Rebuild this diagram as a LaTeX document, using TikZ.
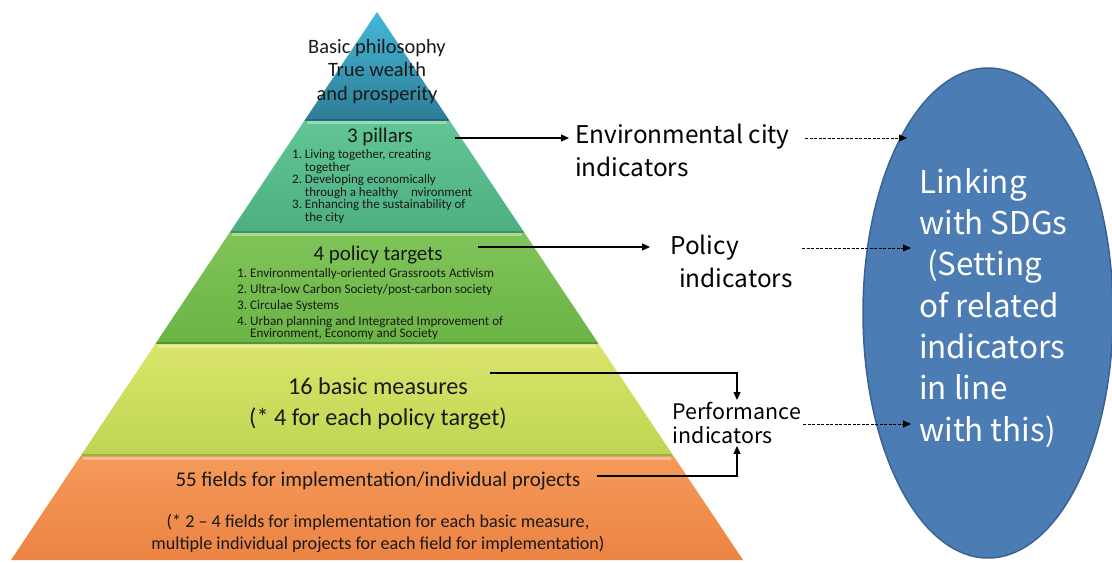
\documentclass[tikz,border=0pt]{standalone}
\usepackage{fontspec}
\setmainfont{Carlito}
\newfontfamily\jp{Noto Sans CJK JP}
\usetikzlibrary{arrows.meta,shapes.geometric,calc}
\definecolor{bluetop}{HTML}{45B8D8}
\definecolor{bluebot}{HTML}{2D7C96}
\definecolor{tealtop}{HTML}{62C594}
\definecolor{tealbot}{HTML}{4DAF80}
\definecolor{greentop}{HTML}{80C45A}
\definecolor{greenbot}{HTML}{6AB444}
\definecolor{yeltop}{HTML}{D9E56B}
\definecolor{yelbot}{HTML}{BFD552}
\definecolor{orgtop}{HTML}{F59A5A}
\definecolor{orgbot}{HTML}{EC8343}
\definecolor{sdgfill}{HTML}{4B7CB3}
\definecolor{sdgline}{HTML}{3A6394}
\tikzset{
  tier/.style={draw=none},
  hilite/.style={line width=3bp, white, opacity=0.35},
  shade/.style={line width=2bp, black, opacity=0.18},
  arr/.style={line width=1.1bp, -{Triangle[length=8bp,width=7bp]}},
  darr/.style={line width=0.8bp, dash pattern=on 3bp off 1.5bp, -{Triangle[length=8bp,width=7bp]}},
  ptxt/.style={font=\fontsize{21}{24}\selectfont, text=black!90, inner sep=0},
  listtxt/.style={font=\fontsize{13}{12.6}\selectfont, align=left, text=black!90, inner sep=0},
  rtxt/.style={font=\jp\fontsize{24.5}{32.5}\selectfont, align=left, inner sep=2bp},
}
\begin{document}
\begin{tikzpicture}[x=1bp,y=-1bp]
\useasboundingbox[fill=white] (0,0) rectangle (1112,563);
% pyramid tiers
\path[tier, top color=bluetop, bottom color=bluebot] (377,12) -- (449.8,121) -- (304.2,121) -- cycle;
\path[tier, top color=tealtop, bottom color=tealbot] (304.2,121) -- (449.8,121) -- (524.6,233) -- (229.4,233) -- cycle;
\path[tier, top color=greentop, bottom color=greenbot] (229.4,233) -- (524.6,233) -- (598.7,344) -- (155.3,344) -- cycle;
\path[tier, top color=yeltop, bottom color=yelbot] (155.3,344) -- (598.7,344) -- (673.5,456) -- (80.5,456) -- cycle;
\path[tier, top color=orgtop, bottom color=orgbot] (80.5,456) -- (673.5,456) -- (743,560) -- (11,560) -- cycle;
\draw[shade] (306,120) -- (448,120);
\draw[shade] (231,232) -- (523,232);
\draw[shade] (157,343) -- (597,343);
\draw[shade] (82,455) -- (672,455);
\draw[hilite] (307,123) -- (447,123);
\draw[hilite] (232,235) -- (522,235);
\draw[hilite] (158,346.5) -- (596,346.5);
\draw[hilite] (83,458.5) -- (671,458.5);
% pyramid texts
\node[ptxt, align=center, font=\fontsize{20.5}{23.5}\selectfont] (phil) at (377,71.5) {Basic philosophy\\True wealth\\and prosperity};
\node[ptxt] (pil) at (380,137) {3 pillars};
\node[listtxt, anchor=north west] (pillist) at (292,149.5) {1.~Living together, creating\\\phantom{1.~}together\\2.~Developing economically\\\phantom{2.~}through a healthy\quad nvironment\\3.~Enhancing the sustainability of\\\phantom{3.~}the city};
\node[ptxt] (pol) at (378,255) {4 policy targets};
\node[listtxt, anchor=north west, font=\fontsize{13.2}{12}\selectfont] (pollist) at (237,268.5) {1.~Environmentally-oriented Grassroots Activism\\[4bp]2.~Ultra-low Carbon Society/post-carbon society\\[4bp]3.~Circulae Systems\\[4bp]4.~Urban planning and Integrated Improvement of\\\phantom{4.~}Environment, Economy and Society};
\node[ptxt, align=center, font=\fontsize{24.3}{30.5}\selectfont] (bm) at (378,403.5) {16 basic measures\\(* 4 for each policy target)};
\node[ptxt] (ff) at (378,481) {55 fields for implementation/individual projects};
\node[ptxt, align=center, font=\fontsize{18.2}{22}\selectfont] (ffn) at (378,533) {(* 2 -- 4 fields for implementation for each basic measure,\\multiple individual projects for each field for implementation)};
% right labels
\node[rtxt, anchor=north west] (eci) at (573,122) {Environmental city\\indicators};
\node[rtxt, anchor=north west, font=\jp\fontsize{24.5}{33.5}\selectfont] (pi) at (668,232.5) {Policy\\\hspace*{9bp}indicators};
\node[rtxt, anchor=center, font=\jp\fontsize{21.5}{24}\selectfont] (perf) at (737,423) {Performance\\indicators};
% ellipse
\node[ellipse, draw=sdgline, line width=1.5bp, fill=sdgfill, minimum width=250bp, minimum height=490bp] (sdg) at (988,313) {};
\node[anchor=north west, align=left, text=white, inner sep=0, font=\jp\fontsize{31.5}{41.5}\selectfont] (sdgtxt) at (919,168) {Linking\\with SDGs\\\hspace*{8bp}(Setting\\of related\\indicators\\in line\\with this)};
% solid arrows
\coordinate (s1) at (455,138);
\coordinate (s2) at (478,247);
\coordinate (s3) at (490,373);
\coordinate (s4) at (597,476);
\draw[arr] (s1) -- ($(s1 -| eci.west)+(-4,0)$);
\draw[arr] (s2) -- ($(s2 -| pi.west)+(-18,0)$);
\draw[arr] (s3) -| (perf.north);
\draw[arr] (s4) -| (perf.south);
% dashed arrows
\coordinate (e1) at (907,138);
\coordinate (e2) at (911,248);
\coordinate (e3) at (911,424);
\draw[darr] (805,138) coordinate (d1) -- (e1);
\draw[darr] (802,248) coordinate (d2) -- (e2);
\draw[darr] (perf.east |- e3) -- (e3);
\end{tikzpicture}
\end{document}
